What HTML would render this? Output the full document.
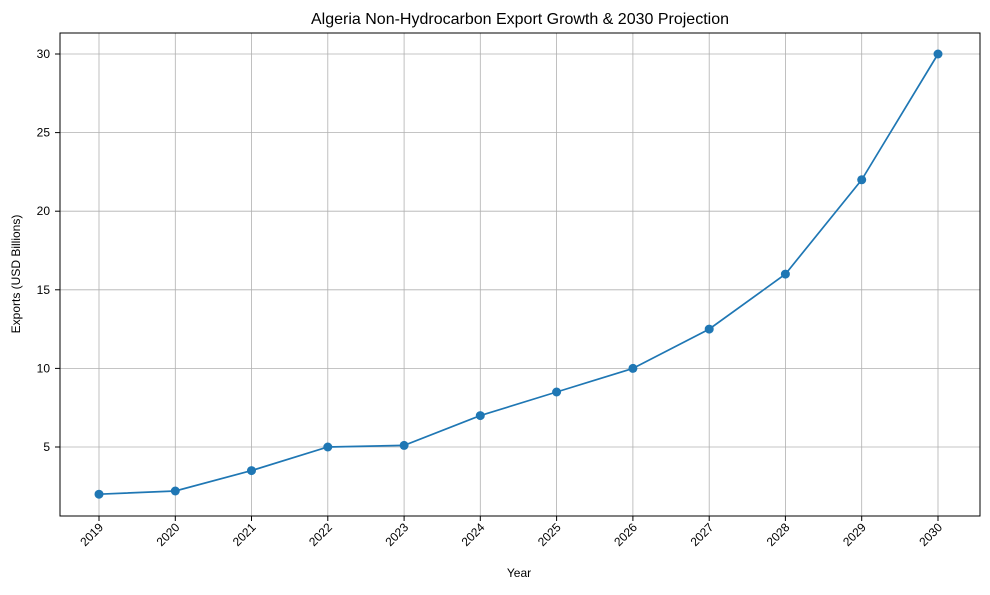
<!DOCTYPE html>
<html><head><style>body{margin:0;background:#fff}svg{font-family:"Liberation Sans","DejaVu Sans",sans-serif}</style></head>
<body>
<svg width="990" height="590" xmlns="http://www.w3.org/2000/svg">
<rect width="990" height="590" fill="#fff"/>
<text x="520" y="24" font-size="16" text-anchor="middle">Algeria Non-Hydrocarbon Export Growth &amp; 2030 Projection</text>
<g stroke="#b0b0b0" stroke-width="0.8">
<line x1="99" y1="33" x2="99" y2="516"/><line x1="175.3" y1="33" x2="175.3" y2="516"/><line x1="251.5" y1="33" x2="251.5" y2="516"/><line x1="327.8" y1="33" x2="327.8" y2="516"/><line x1="404.1" y1="33" x2="404.1" y2="516"/><line x1="480.3" y1="33" x2="480.3" y2="516"/><line x1="556.6" y1="33" x2="556.6" y2="516"/><line x1="632.9" y1="33" x2="632.9" y2="516"/><line x1="709.2" y1="33" x2="709.2" y2="516"/><line x1="785.4" y1="33" x2="785.4" y2="516"/><line x1="861.7" y1="33" x2="861.7" y2="516"/><line x1="938" y1="33" x2="938" y2="516"/>
<line x1="60" y1="447" x2="980" y2="447"/><line x1="60" y1="368.4" x2="980" y2="368.4"/><line x1="60" y1="289.8" x2="980" y2="289.8"/><line x1="60" y1="211.2" x2="980" y2="211.2"/><line x1="60" y1="132.6" x2="980" y2="132.6"/><line x1="60" y1="54" x2="980" y2="54"/>
</g>
<rect x="60" y="33" width="920" height="483" fill="none" stroke="#000" stroke-width="1"/>
<g stroke="#000"><line x1="55" y1="447" x2="60" y2="447"/><line x1="55" y1="368.4" x2="60" y2="368.4"/><line x1="55" y1="289.8" x2="60" y2="289.8"/><line x1="55" y1="211.2" x2="60" y2="211.2"/><line x1="55" y1="132.6" x2="60" y2="132.6"/><line x1="55" y1="54" x2="60" y2="54"/></g>
<g font-size="12" text-anchor="end"><text x="50" y="451">5</text><text x="50" y="372.4">10</text><text x="50" y="293.8">15</text><text x="50" y="215.2">20</text><text x="50" y="136.6">25</text><text x="50" y="58">30</text></g>
<g font-size="12" text-anchor="end">
<text transform="translate(104,528) rotate(-45)">2019</text><text transform="translate(180.3,528) rotate(-45)">2020</text><text transform="translate(256.5,528) rotate(-45)">2021</text><text transform="translate(332.8,528) rotate(-45)">2022</text><text transform="translate(409.1,528) rotate(-45)">2023</text><text transform="translate(485.3,528) rotate(-45)">2024</text><text transform="translate(561.6,528) rotate(-45)">2025</text><text transform="translate(637.9,528) rotate(-45)">2026</text><text transform="translate(714.2,528) rotate(-45)">2027</text><text transform="translate(790.4,528) rotate(-45)">2028</text><text transform="translate(866.7,528) rotate(-45)">2029</text><text transform="translate(943,528) rotate(-45)">2030</text>
</g>
<g stroke="#000"><line x1="99" y1="516" x2="99" y2="521"/><line x1="175.3" y1="516" x2="175.3" y2="521"/><line x1="251.5" y1="516" x2="251.5" y2="521"/><line x1="327.8" y1="516" x2="327.8" y2="521"/><line x1="404.1" y1="516" x2="404.1" y2="521"/><line x1="480.3" y1="516" x2="480.3" y2="521"/><line x1="556.6" y1="516" x2="556.6" y2="521"/><line x1="632.9" y1="516" x2="632.9" y2="521"/><line x1="709.2" y1="516" x2="709.2" y2="521"/><line x1="785.4" y1="516" x2="785.4" y2="521"/><line x1="861.7" y1="516" x2="861.7" y2="521"/><line x1="938" y1="516" x2="938" y2="521"/></g>
<text x="519" y="577" font-size="12" text-anchor="middle">Year</text>
<text transform="translate(20,274) rotate(-90)" font-size="12" text-anchor="middle">Exports (USD Billions)</text>
<polyline fill="none" stroke="#1f77b4" stroke-width="1.7" points="99,494.2 175.3,491 251.5,470.6 327.8,447 404.1,445.4 480.3,415.6 556.6,392 632.9,368.4 709.2,329.1 785.4,274.1 861.7,179.8 938,54"/>
<g fill="#1f77b4"><circle cx="99" cy="494.2" r="4.5"/><circle cx="175.3" cy="491" r="4.5"/><circle cx="251.5" cy="470.6" r="4.5"/><circle cx="327.8" cy="447" r="4.5"/><circle cx="404.1" cy="445.4" r="4.5"/><circle cx="480.3" cy="415.6" r="4.5"/><circle cx="556.6" cy="392" r="4.5"/><circle cx="632.9" cy="368.4" r="4.5"/><circle cx="709.2" cy="329.1" r="4.5"/><circle cx="785.4" cy="274.1" r="4.5"/><circle cx="861.7" cy="179.8" r="4.5"/><circle cx="938" cy="54" r="4.5"/></g>
</svg>
</body></html>
